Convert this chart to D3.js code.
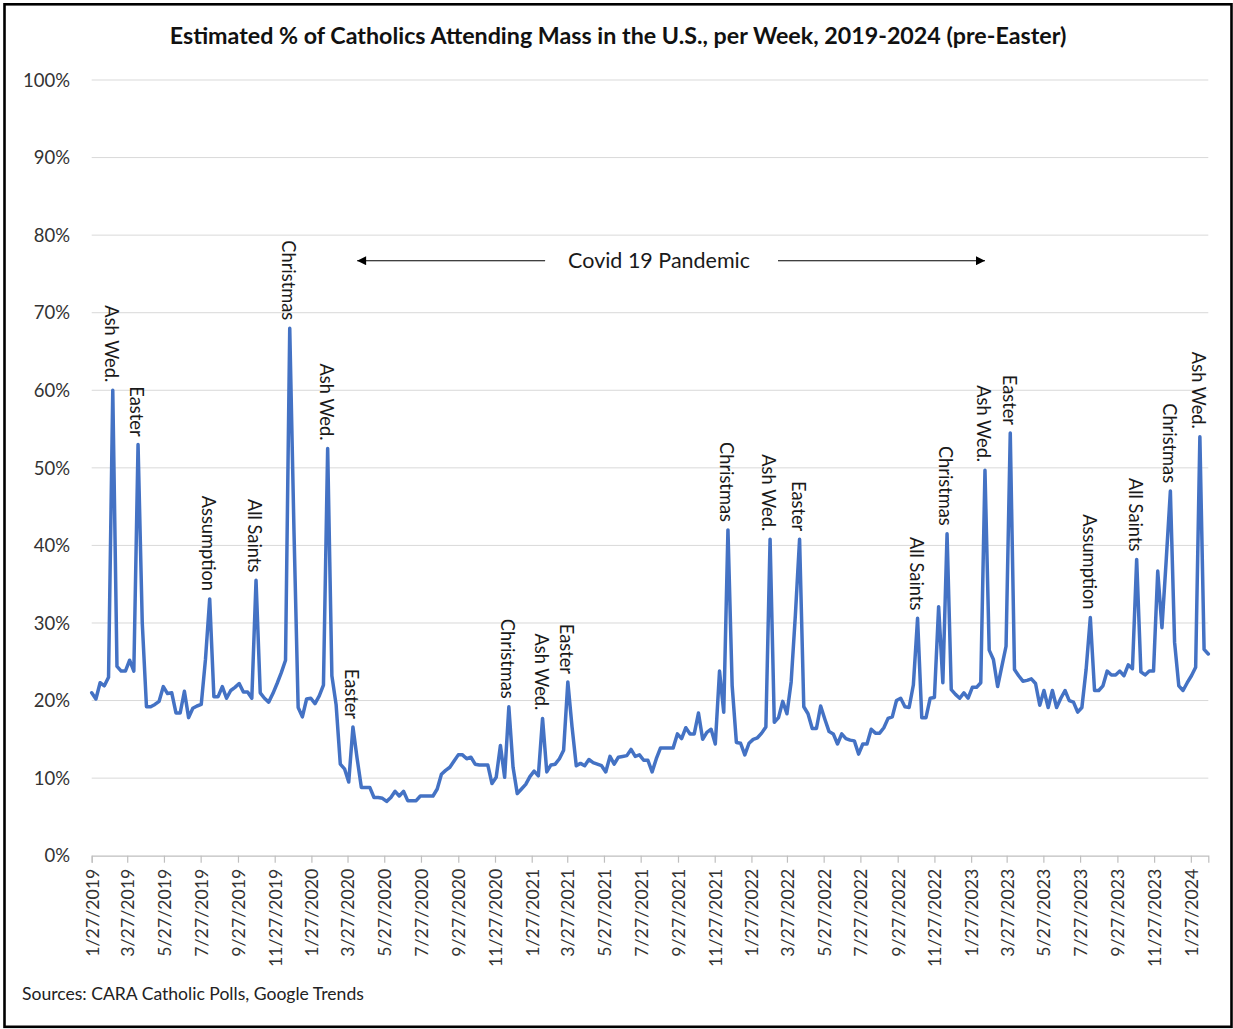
<!DOCTYPE html>
<html><head><meta charset="utf-8">
<script src="https://cdn.jsdelivr.net/npm/d3@7"></script>
<style>body{margin:0;background:#fff}</style>
</head><body>
<svg id="chart" width="1233" height="1029"></svg>
<script>
// ---------- DATA ----------
const startDate = "1/27/2019";   // first weekly observation (Sunday)
const attendance = [
  21.0, 20.2, 22.3, 21.9, 23.0, 60.0, 24.4, 23.8, 23.8, 25.2,
  23.8, 53.0, 30.0, 19.2, 19.2, 19.5, 19.9, 21.8, 20.9, 21.0,
  18.4, 18.4, 21.2, 17.8, 19.0, 19.3, 19.5, 25.3, 33.1, 20.5,
  20.5, 21.8, 20.3, 21.3, 21.7, 22.2, 21.1, 21.1, 20.3, 35.5,
  21.0, 20.3, 19.8, 20.9, 22.2, 23.6, 25.2, 68.0, 42.0, 19.1,
  17.9, 20.2, 20.3, 19.6, 20.6, 22.0, 52.5, 23.2, 19.5, 11.8,
  11.2, 9.5, 16.6, 12.5, 8.8, 8.8, 8.8, 7.5, 7.5, 7.4,
  7.0, 7.5, 8.3, 7.7, 8.3, 7.1, 7.1, 7.1, 7.7, 7.7,
  7.7, 7.7, 8.6, 10.5, 11.0, 11.4, 12.2, 13.0, 13.0, 12.5,
  12.7, 11.8, 11.7, 11.7, 11.7, 9.3, 10.1, 14.2, 10.1, 19.2,
  11.4, 8.0, 8.6, 9.2, 10.2, 10.9, 10.3, 17.7, 10.8, 11.7,
  11.8, 12.5, 13.6, 22.4, 16.6, 11.6, 11.9, 11.6, 12.4, 12.0,
  11.8, 11.6, 10.8, 12.8, 11.8, 12.7, 12.8, 12.9, 13.7, 12.8,
  13.0, 12.3, 12.3, 10.8, 12.5, 13.9, 13.9, 13.9, 13.9, 15.7,
  15.1, 16.5, 15.7, 15.7, 18.4, 15.0, 15.9, 16.3, 14.4, 23.8,
  18.5, 42.0, 21.9, 14.6, 14.5, 13.0, 14.5, 15.0, 15.2, 15.8,
  16.6, 40.8, 17.2, 17.8, 19.9, 18.3, 22.4, 31.0, 40.8, 19.2,
  18.3, 16.4, 16.4, 19.3, 17.6, 16.0, 15.7, 14.4, 15.7, 15.1,
  14.9, 14.8, 13.1, 14.4, 14.4, 16.3, 15.8, 15.8, 16.5, 17.7,
  17.9, 20.0, 20.3, 19.2, 19.1, 22.0, 30.6, 17.8, 17.8, 20.3,
  20.4, 32.1, 22.3, 41.5, 21.4, 20.8, 20.3, 21.0, 20.3, 21.7,
  21.7, 22.3, 49.7, 26.5, 25.3, 21.8, 24.4, 27.0, 54.5, 24.0,
  23.2, 22.5, 22.6, 22.8, 22.2, 19.4, 21.3, 19.1, 21.3, 19.1,
  20.3, 21.3, 20.0, 19.8, 18.5, 19.1, 24.0, 30.7, 21.3, 21.3,
  21.9, 23.8, 23.3, 23.3, 23.8, 23.2, 24.6, 24.1, 38.2, 23.7,
  23.3, 23.8, 23.8, 36.7, 29.4, 38.0, 47.0, 27.5, 21.9, 21.3,
  22.3, 23.2, 24.3, 54.0, 26.6, 26.0
];
const tickLabels = [
  "1/27/2019","3/27/2019","5/27/2019","7/27/2019","9/27/2019","11/27/2019",
  "1/27/2020","3/27/2020","5/27/2020","7/27/2020","9/27/2020","11/27/2020",
  "1/27/2021","3/27/2021","5/27/2021","7/27/2021","9/27/2021","11/27/2021",
  "1/27/2022","3/27/2022","5/27/2022","7/27/2022","9/27/2022","11/27/2022",
  "1/27/2023","3/27/2023","5/27/2023","7/27/2023","9/27/2023","11/27/2023",
  "1/27/2024"
];
const yTicks = [0, 10, 20, 30, 40, 50, 60, 70, 80, 90, 100];
const holidayIndex = [5, 11, 28, 39, 47, 56, 62, 99, 107, 113, 151, 161, 168, 196, 203, 212, 218, 237, 248, 256, 263];
const holidayLabel = ["Ash Wed.","Easter","Assumption","All Saints","Christmas","Ash Wed.","Easter",
  "Christmas","Ash Wed.","Easter","Christmas","Ash Wed.","Easter","All Saints","Christmas",
  "Ash Wed.","Easter","Assumption","All Saints","Christmas","Ash Wed."];
const covidSpan = ["4/12/2020", "2/19/2023"];
const covidLabel = "Covid 19 Pandemic";
const covidLevel = 76.7;
const titleText = "Estimated % of Catholics Attending Mass in the U.S., per Week, 2019-2024 (pre-Easter)";
const sourceText = "Sources: CARA Catholic Polls, Google Trends";

// ---------- CHART ----------
const FONT = "Lato, 'Open Sans', sans-serif";
const svg = d3.select("#chart");
const parse = d3.timeParse("%m/%d/%Y");
const t0 = parse(startDate);
const series = attendance.map((v, i) => ({date: d3.timeDay.offset(t0, 7 * i), value: v}));
const tickDates = tickLabels.map(parse);

const x = d3.scaleTime().domain([series[0].date, series[series.length - 1].date]).range([91.7, 1208.3]);
const y = d3.scaleLinear().domain([0, 100]).range([855.7, 80]);

function fit(sel, target) {
  const node = sel.node();
  const fs = parseFloat(sel.attr("font-size"));
  const w = node.getComputedTextLength();
  const nfs = fs * target / w;
  sel.attr("font-size", nfs);
  return nfs;
}

svg.append("rect").attr("width", 1233).attr("height", 1029).attr("fill", "#fff");

// gridlines
svg.append("g").selectAll("line").data(yTicks.filter(d => d > 0)).join("line")
  .attr("x1", x.range()[0]).attr("x2", x.range()[1])
  .attr("y1", d => y(d)).attr("y2", d => y(d))
  .attr("stroke", "#d9d9d9").attr("stroke-width", 1);

// y labels
const yl = svg.append("g").selectAll("text").data(yTicks).join("text")
  .attr("x", 70).attr("y", d => y(d)).attr("dy", "0.36em")
  .attr("text-anchor", "end").attr("font-family", FONT).attr("font-size", 18)
  .attr("fill", "#333").text(d => d + "%");
const yfs = fit(d3.select(yl.nodes()[10]), 47);
yl.attr("font-size", yfs);

// x axis
const xAxis = d3.axisBottom(x).tickValues(tickDates).tickSizeOuter(0).tickSize(7)
  .tickFormat((d, i) => tickLabels[i]);
const gx = svg.append("g").attr("transform", `translate(0,${y(0)})`).call(xAxis);
gx.select(".domain").attr("stroke", "#bfbfbf").attr("stroke-width", 1.2);
gx.selectAll(".tick line").attr("stroke", "#bfbfbf").attr("stroke-width", 1.2);
const xt = gx.selectAll(".tick text")
  .attr("font-family", FONT).attr("font-size", 16).attr("fill", "#333")
  .attr("text-anchor", "end").attr("transform", "rotate(-90)")
  .attr("x", -13).attr("y", 0).attr("dy", "0.36em");
const xfs = fit(d3.select(xt.nodes()[0]), 88);
xt.attr("font-size", xfs);

// line
const line = d3.line().x(d => x(d.date)).y(d => y(d.value));
svg.append("path").datum(series).attr("d", line)
  .attr("fill", "none").attr("stroke", "#4472C4").attr("stroke-width", 3.5)
  .attr("stroke-linejoin", "round").attr("stroke-linecap", "round");

// holiday labels
const hl = svg.append("g").selectAll("text").data(holidayIndex).join("text")
  .attr("transform", d => `translate(${x(series[d].date) - 1},${y(series[d].value) - 8}) rotate(90)`)
  .attr("dy", "0.36em").attr("text-anchor", "end")
  .attr("font-family", FONT).attr("font-size", 16).attr("fill", "#1a1a1a")
  .text((d, i) => holidayLabel[i]);
const hfs = fit(d3.select(hl.nodes()[4]), 80);
hl.attr("font-size", hfs);

// covid annotation
const cy = y(covidLevel);
const cx0 = x(parse(covidSpan[0])), cx1 = x(parse(covidSpan[1]));
const defs = svg.append("defs");
defs.append("marker").attr("id", "arr").attr("viewBox", "0 0 10 10")
  .attr("refX", 10).attr("refY", 5).attr("markerWidth", 12).attr("markerHeight", 9)
  .attr("markerUnits", "userSpaceOnUse").attr("orient", "auto-start-reverse")
  .append("path").attr("d", "M0,0 L10,5 L0,10 Z").attr("fill", "#000");
const ct = svg.append("text").attr("x", (cx0 + cx1) / 2 - 12).attr("y", cy).attr("dy", "0.36em")
  .attr("text-anchor", "middle").attr("font-family", FONT).attr("font-size", 19)
  .attr("fill", "#1a1a1a").text(covidLabel);
fit(ct, 182);
const bb = ct.node().getBBox();
svg.append("line").attr("x1", bb.x - 23).attr("x2", cx0).attr("y1", cy).attr("y2", cy)
  .attr("stroke", "#000").attr("stroke-width", 1.2).attr("marker-end", "url(#arr)");
svg.append("line").attr("x1", bb.x + bb.width + 28).attr("x2", cx1).attr("y1", cy).attr("y2", cy)
  .attr("stroke", "#000").attr("stroke-width", 1.2).attr("marker-end", "url(#arr)");

// title
const tt = svg.append("text").attr("x", 618).attr("y", 44).attr("text-anchor", "middle")
  .attr("font-family", FONT).attr("font-weight", "bold").attr("font-size", 22)
  .attr("fill", "#111").text(titleText);
fit(tt, 897);

// source
const st = svg.append("text").attr("x", 22).attr("y", 1000)
  .attr("font-family", FONT).attr("font-size", 17).attr("fill", "#222").text(sourceText);
fit(st, 342);

// border
svg.append("rect").attr("x", 4.5).attr("y", 4.3).attr("width", 1227).attr("height", 1022.5)
  .attr("fill", "none").attr("stroke", "#000").attr("stroke-width", 2.6);
</script>
</body></html>
